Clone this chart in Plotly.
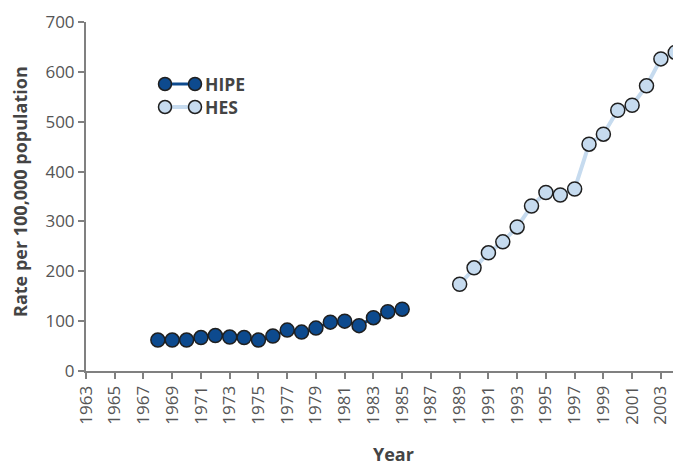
import plotly.graph_objects as go

hipe_years = list(range(1968, 1986))
hipe_values = [62, 62, 62, 67, 71, 68, 67, 62, 70, 82, 78, 86, 98, 100, 91, 107, 119, 124]
hes_years = list(range(1989, 2005))
hes_values = [174, 207, 237, 259, 289, 331, 358, 353, 365, 455, 475, 523, 533, 572, 626, 639]
x_ticks = list(range(1963, 2004, 2))
y_ticks = list(range(0, 701, 100))

HIPE_C = "#0d4a8e"
HES_C = "#c6dbef"
EDGE = "#1f1f1f"
FONT = "Open Sans"

# page body has an 8px default margin; plot area targets in screenshot pixels
OFF = 8
W, H = 681, 466
PL, PR, PT, PB = 86, 681, 22, 371  # plot-area edges in screenshot pixels
L, T = PL - OFF, PT - OFF
R = W - (PR - OFF)
B = H - (PB - OFF)
PW, PH = W - L - R, H - T - B


def px_x(x):
    return (x - PL) / PW


def px_y(y):
    return (PB - y) / PH


fig = go.Figure()
fig.add_trace(go.Scatter(x=hipe_years, y=hipe_values, mode="lines+markers", name="HIPE",
                         line=dict(color=HIPE_C, width=3), cliponaxis=False,
                         marker=dict(size=14, color=HIPE_C, line=dict(color=EDGE, width=1.5))))
fig.add_trace(go.Scatter(x=hes_years, y=hes_values, mode="lines+markers", name="HES",
                         line=dict(color=HES_C, width=4), cliponaxis=False,
                         marker=dict(size=14, color=HES_C, line=dict(color=EDGE, width=1.5))))

# manual legend (line with two markers each)
legend_items = [("HIPE", HIPE_C, 3, 84), ("HES", HES_C, 4, 107)]
for name, col, lw, ypx in legend_items:
    yp = px_y(ypx)
    fig.add_shape(type="line", xref="paper", yref="paper", x0=px_x(165), x1=px_x(195), y0=yp, y1=yp,
                  line=dict(color=col, width=lw))
    for xc in (165, 195):
        fig.add_shape(type="circle", xref="paper", yref="paper",
                      x0=px_x(xc - 6.5), x1=px_x(xc + 6.5), y0=px_y(ypx + 6.5), y1=px_y(ypx - 6.5),
                      fillcolor=col, line=dict(color=EDGE, width=1.5))
    fig.add_annotation(xref="paper", yref="paper", x=px_x(203), y=yp, text="<b>" + name + "</b>",
                       showarrow=False, xanchor="left", yanchor="middle",
                       font=dict(family=FONT, size=17.5, color="#444444"))

fig.add_annotation(xref="paper", yref="paper", x=px_x(393), y=px_y(454), text="<b>Year</b>",
                   showarrow=False, xanchor="center", yanchor="middle", borderpad=0,
                   font=dict(family=FONT, size=18, color="#444444"))
fig.add_annotation(xref="paper", yref="paper", x=px_x(20), y=px_y(192),
                   text="<b>Rate per 100,000 population</b>", textangle=-90,
                   showarrow=False, xanchor="center", yanchor="middle", borderpad=0,
                   font=dict(family=FONT, size=18, color="#444444"))

fig.update_layout(
    width=W, height=H,
    margin=dict(l=L, r=R, t=T, b=B),
    paper_bgcolor="white", plot_bgcolor="white",
    showlegend=False,
    font=dict(family=FONT, color="#555555"),
    xaxis=dict(range=[1963, 2004.4], tickmode="array", tickvals=x_ticks,
               ticktext=[str(v) for v in x_ticks], tickangle=-90, automargin=False,
               showgrid=False, zeroline=False, showline=True, linecolor="#808080", linewidth=2,
               ticks="outside", ticklen=6, tickcolor="#808080", tickwidth=2,
               tickfont=dict(size=17, family=FONT, color="#555555")),
    yaxis=dict(range=[0, 700], tickmode="array", tickvals=y_ticks, automargin=False,
               showgrid=False, zeroline=False, showline=True, linecolor="#808080", linewidth=2,
               ticks="outside", ticklen=6, tickcolor="#808080", tickwidth=2,
               tickfont=dict(size=17, family=FONT, color="#555555")),
)

fig.write_html("out.html")
